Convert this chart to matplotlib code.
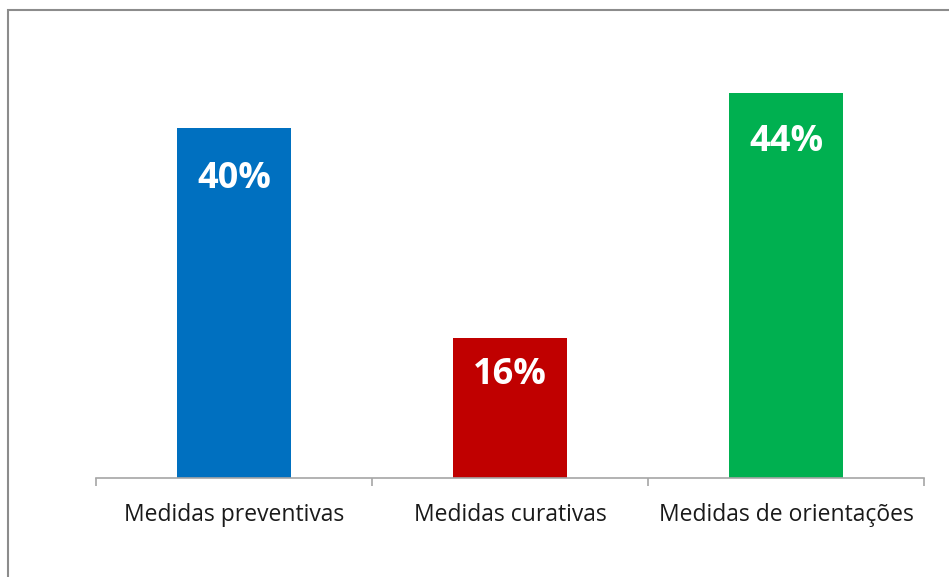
import matplotlib.pyplot as plt
from matplotlib.patches import Rectangle
import numpy as np

# data
categorias = ['Medidas preventivas', 'Medidas curativas', 'Medidas de orientações']
valores = [40, 16, 44]
cores = ['#0070C0', '#C00000', '#00B050']
rotulos = ['40%', '16%', '44%']

W, H = 949, 577
fig = plt.figure(figsize=(W / 100, H / 100), dpi=100)

# outer chart border (Excel style), only top/left visible in the crop
fig.patches.append(Rectangle((8 / W, -0.1), 1.2, 1 - 10 / H + 0.1, transform=fig.transFigure,
                             fill=False, edgecolor='#8C8C8C', linewidth=1.5))

ax = fig.add_axes([96 / W, (H - 478) / H, (924 - 96) / W, (478 - 40.5) / H])
x = np.arange(len(categorias))
bars = ax.bar(x, valores, width=0.41, color=cores, zorder=2)

ax.set_xlim(-0.5, 2.5)
ax.set_ylim(0, 50)

for s in ['top', 'right', 'left']:
    ax.spines[s].set_visible(False)
ax.spines['bottom'].set_color('#A6A6A6')
ax.spines['bottom'].set_linewidth(1.2)
ax.set_yticks([])

# ticks between categories, labels centred under bars
ax.set_xticks(np.arange(-0.5, len(categorias), 1.0))
ax.set_xticklabels([])
ax.tick_params(axis='x', which='major', length=6, width=1.2, color='#A6A6A6', direction='out')
ax.set_xticks(x, minor=True)
ax.set_xticklabels(categorias, minor=True, fontsize=16.5, family='Open Sans', color='#1a1a1a')
ax.tick_params(axis='x', which='minor', length=0, pad=18)

# value labels inside the bars
desloc = [51, 37, 49]  # px below bar top
for b, txt, d in zip(bars, rotulos, desloc):
    ax.annotate(txt, (b.get_x() + b.get_width() / 2, b.get_height()),
                xytext=(0, -d * 72 / 100), textcoords='offset points',
                ha='center', va='center', color='white', fontsize=26,
                fontweight='bold', family='Open Sans')

fig.savefig('out.png', dpi=100)
